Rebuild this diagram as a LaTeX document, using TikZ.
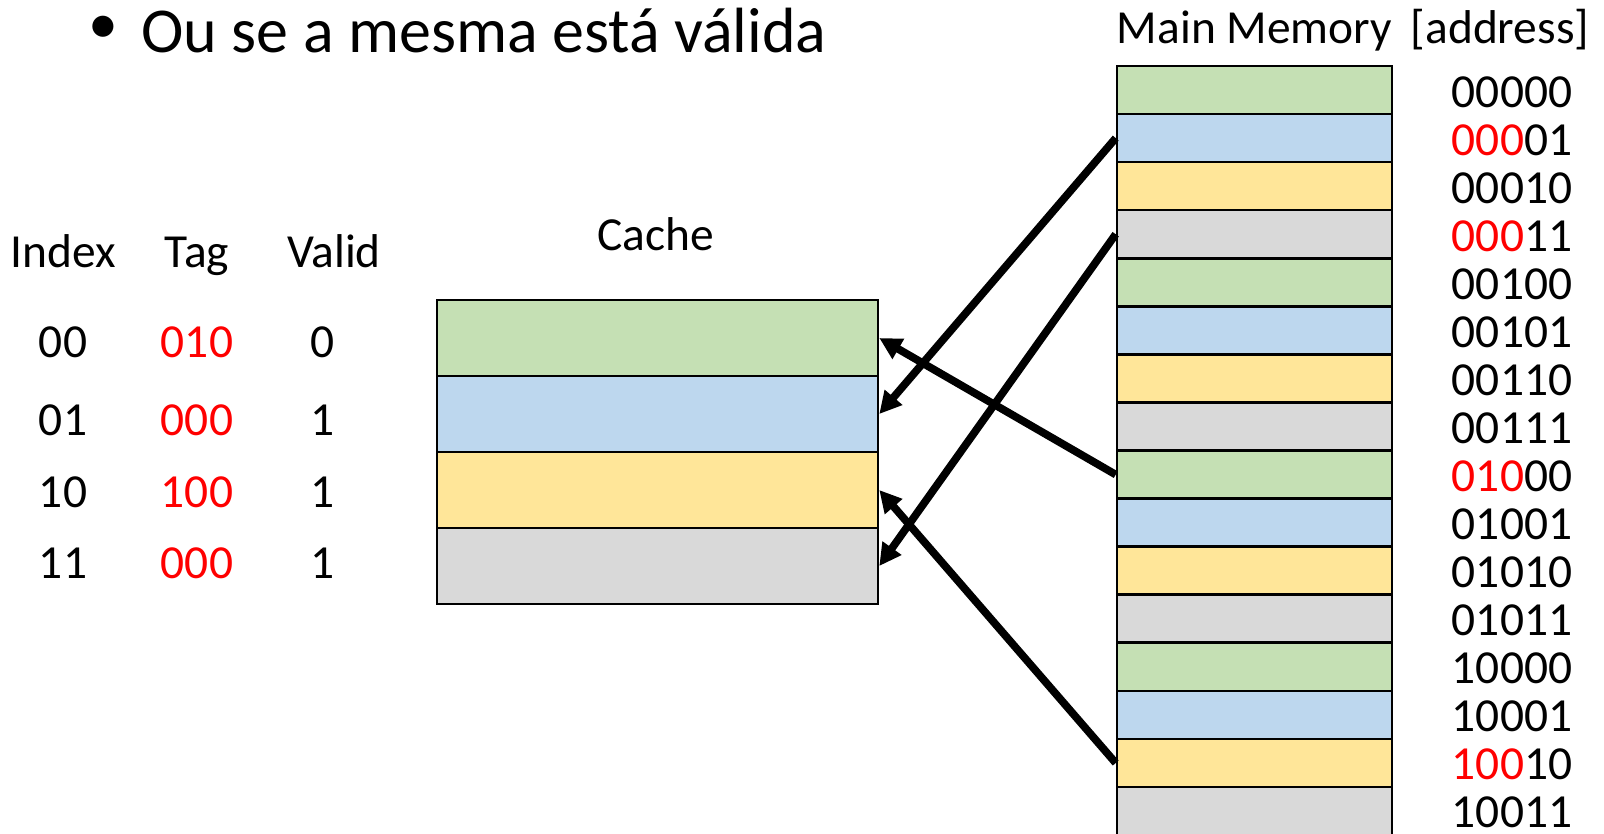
\documentclass[tikz,border=0pt]{standalone}
\usepackage{fontspec}
\setmainfont{Carlito}
\usepackage{xcolor}
\usepackage{tikz}
\usetikzlibrary{arrows.meta}

\definecolor{rowgreen}{HTML}{C5E0B4}
\definecolor{rowblue}{HTML}{BDD7EE}
\definecolor{rowyellow}{HTML}{FFE699}
\definecolor{rowgray}{HTML}{D9D9D9}

\begin{document}
\begin{tikzpicture}[x=0.02cm, y=-0.02cm,
  every node/.style={font=\fontsize{27}{32}\selectfont, inner sep=0pt},
  memrow/.style={draw, line width=1.5pt, minimum width=5.5cm, minimum height=0.9614cm},
  cacherow/.style={draw, line width=1.5pt, minimum width=8.82cm, minimum height=1.52cm},
  maparrow/.style={-{Triangle[length=0.44cm, width=0.44cm]}, line width=4.4pt}]
\useasboundingbox (0,0) rectangle (1604,833);

% bullet line
\node[font=\fontsize{34}{40}\selectfont] (bul) at (103.5,30) {•};
\node[anchor=base west, font=\fontsize{36.4}{44}\selectfont] (ttl) at (141,52) {Ou se a mesma está válida};

% table
\node[anchor=base] (hidx) at (63,267) {Index};
\node[anchor=base] (htag) at (197,267) {Tag};
\node[anchor=base] (hval) at (334,267) {Valid};
\node (i0) at (63,342) {00};
\node (t0) at (197,342) {\textcolor{red}{010}};
\node (v0) at (323,342) {0};
\node (i1) at (63,420) {01};
\node (t1) at (197,420) {\textcolor{red}{000}};
\node (v1) at (323,420) {1};
\node (i2) at (63,492) {10};
\node (t2) at (197,492) {\textcolor{red}{100}};
\node (v2) at (323,492) {1};
\node (i3) at (63,563) {11};
\node (t3) at (197,563) {\textcolor{red}{000}};
\node (v3) at (323,563) {1};

% cache
\node[anchor=base] (ctitle) at (656,250) {Cache};
\node[cacherow, fill=rowgreen] (c0) at (657.5,338) {};
\node[cacherow, fill=rowblue] (c1) at (657.5,414) {};
\node[cacherow, fill=rowyellow] (c2) at (657.5,490) {};
\node[cacherow, fill=rowgray] (c3) at (657.5,566) {};

% main memory
\node[anchor=base] (mtitle) at (1254.5,43) {Main Memory};
\node[anchor=base] (atitle) at (1500,43) {[address]};
\node[memrow, fill=rowgreen] (m0) at (1254.5,90.0) {};
\node[memrow, fill=rowblue] (m1) at (1254.5,138.1) {};
\node[memrow, fill=rowyellow] (m2) at (1254.5,186.1) {};
\node[memrow, fill=rowgray] (m3) at (1254.5,234.2) {};
\node[memrow, fill=rowgreen] (m4) at (1254.5,282.3) {};
\node[memrow, fill=rowblue] (m5) at (1254.5,330.4) {};
\node[memrow, fill=rowyellow] (m6) at (1254.5,378.4) {};
\node[memrow, fill=rowgray] (m7) at (1254.5,426.5) {};
\node[memrow, fill=rowgreen] (m8) at (1254.5,474.6) {};
\node[memrow, fill=rowblue] (m9) at (1254.5,522.6) {};
\node[memrow, fill=rowyellow] (m10) at (1254.5,570.7) {};
\node[memrow, fill=rowgray] (m11) at (1254.5,618.8) {};
\node[memrow, fill=rowgreen] (m12) at (1254.5,666.8) {};
\node[memrow, fill=rowblue] (m13) at (1254.5,714.9) {};
\node[memrow, fill=rowyellow] (m14) at (1254.5,763.0) {};
\node[memrow, fill=rowgray] (m15) at (1254.5,811.1) {};

% addresses
\node (a0) at (1512,92) {00000};
\node (a1) at (1512,140) {\textcolor{red}{000}01};
\node (a2) at (1512,188) {00010};
\node (a3) at (1512,236) {\textcolor{red}{000}11};
\node (a4) at (1512,284) {00100};
\node (a5) at (1512,332) {00101};
\node (a6) at (1512,380) {00110};
\node (a7) at (1512,428) {00111};
\node (a8) at (1512,476) {\textcolor{red}{010}00};
\node (a9) at (1512,524) {01001};
\node (a10) at (1512,572) {01010};
\node (a11) at (1512,620) {01011};
\node (a12) at (1512,668) {10000};
\node (a13) at (1512,716) {10001};
\node (a14) at (1512,764) {\textcolor{red}{100}10};
\node (a15) at (1512,812) {10011};

% mapping
\draw[maparrow] (m1.west) -- (c1.east);
\draw[maparrow] (m3.west) -- (c3.east);
\draw[maparrow] (m8.west) -- (c0.east);
\draw[maparrow] (m14.west) -- (c2.east);
\end{tikzpicture}
\end{document}
